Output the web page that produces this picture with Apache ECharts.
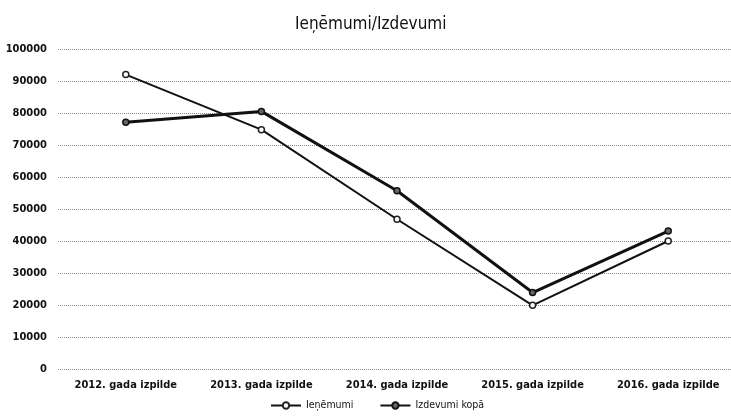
<!DOCTYPE html>
<html><head><meta charset="utf-8">
<script src="https://cdn.jsdelivr.net/npm/echarts@6/dist/echarts.min.js"></script>
<style>html,body{margin:0;padding:0;background:#fff}#c{width:731px;height:419px}</style>
</head><body><div id="c"></div>
<script>
var categories = ['2012. gada izpilde','2013. gada izpilde','2014. gada izpilde','2015. gada izpilde','2016. gada izpilde'];
var ienemumi = [92000, 74800, 46800, 19900, 40000];
var izdevumi = [77100, 80500, 55700, 23900, 43100];
var yTicks = [0,10000,20000,30000,40000,50000,60000,70000,80000,90000,100000];
var FONT = '"DejaVu Sans Condensed", "DejaVu Sans", sans-serif';
var chart = echarts.init(document.getElementById('c'));
chart.setOption({
  animation: false,
  title: {text: 'Ieņēmumi/Izdevumi', left: 290, top: 11,
    textStyle: {fontFamily: FONT, fontSize: 17, fontWeight: 'normal', color: '#111'}},
  legend: {bottom: 3, left: 265, itemWidth: 30, itemHeight: 8, itemGap: 26,
    textStyle: {fontFamily: FONT, fontSize: 10.5, color: '#111'},
    data: ['Ieņēmumi', 'Izdevumi kopā']},
  grid: {left: 58, top: 49, bottom: 50, width: 678, outerBoundsMode: 'none'},
  xAxis: {type: 'category', data: categories, boundaryGap: true,
    axisLine: {show: false}, axisTick: {show: false},
    axisLabel: {fontFamily: FONT, fontSize: 11, fontWeight: 'bold', color: '#111', margin: 11}},
  yAxis: {type: 'value', min: yTicks[0], max: yTicks[yTicks.length-1], interval: 10000,
    axisLine: {show: false}, axisTick: {show: false},
    axisLabel: {fontFamily: FONT, fontSize: 11, fontWeight: 'bold', color: '#111', margin: 11,
      formatter: function (v) { return String(v); }},
    splitLine: {lineStyle: {type: 'dotted', color: '#888', width: 1}}},
  series: [
    {name: 'Ieņēmumi', type: 'line', data: ienemumi, symbol: 'circle', symbolSize: 6,
      lineStyle: {color: '#111', width: 2}, itemStyle: {color: '#fff', borderColor: '#222', borderWidth: 1.5}},
    {name: 'Izdevumi kopā', type: 'line', data: izdevumi, symbol: 'circle', symbolSize: 6,
      lineStyle: {color: '#111', width: 3}, itemStyle: {color: '#666', borderColor: '#111', borderWidth: 1.5}}
  ]
});
</script></body></html>
